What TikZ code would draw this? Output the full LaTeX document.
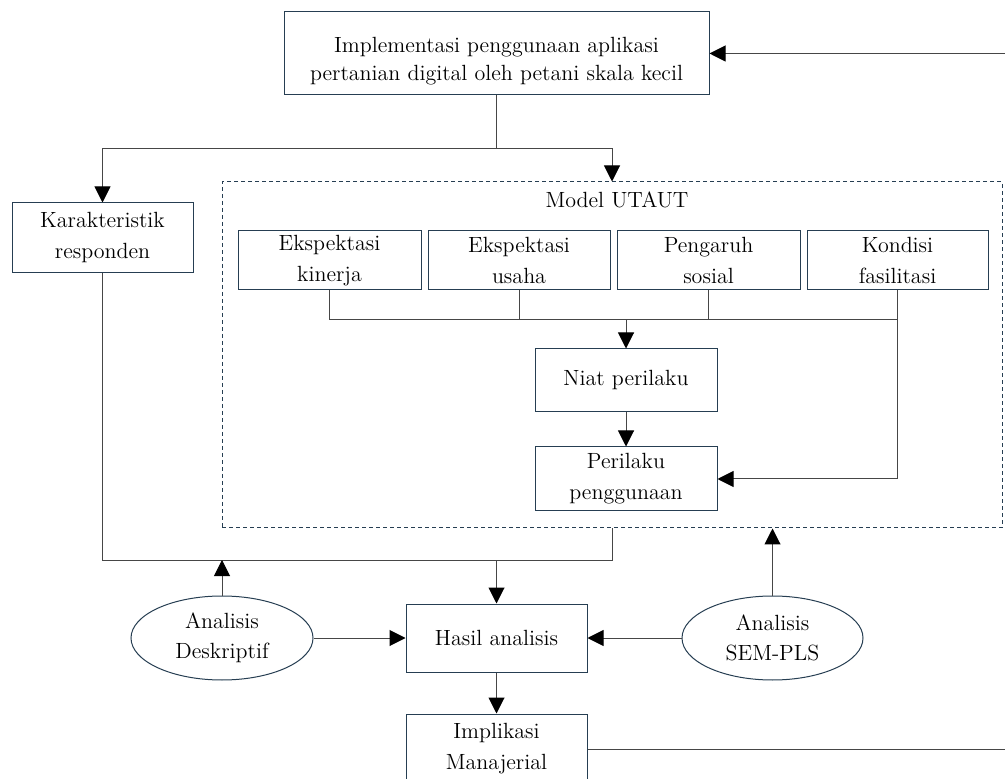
\documentclass[tikz,border=0pt]{standalone}
\usepackage{tikz}
\usetikzlibrary{arrows.meta,shapes.geometric}
\definecolor{boxline}{RGB}{38,62,82}
\definecolor{wire}{RGB}{70,70,70}
\tikzset{
  blok/.style={rectangle,draw=boxline,line width=0.5pt,align=center,inner sep=0pt,font=\fontsize{11}{15.5}\selectfont},
  elips/.style={ellipse,draw=boxline,line width=0.5pt,align=center,inner sep=0pt,font=\fontsize{11}{15}\selectfont},
  garis/.style={draw=wire,line width=0.5pt},
  arr/.style={garis,-{Triangle[length=8pt,width=8pt,color=black]}}
}
\begin{document}
\begin{tikzpicture}[x=0.5pt,y=-0.5pt]
\useasboundingbox (0,0) rectangle (1005,779);
\node[blok,font=\fontsize{11}{14}\selectfont,minimum width=212.5pt,minimum height=41.5pt](top) at(496.5,53.5){\rule{0pt}{15pt}Implementasi penggunaan aplikasi\\pertanian digital oleh petani skala kecil};
\node[blok,minimum width=90.5pt,minimum height=35pt](karak) at(102.5,238){Karakteristik\\responden};
\node[rectangle,draw=boxline,dash pattern=on 2pt off 1.5pt,line width=0.5pt,minimum width=390pt,minimum height=173pt](utaut) at(612,355){};
\node[font=\fontsize{11}{14}\selectfont](judul) at(617,200){Model UTAUT};
\node[blok,minimum width=91.5pt,minimum height=29.5pt](kinerja) at(329.5,260.5){Ekspektasi\\kinerja};
\node[blok,minimum width=91pt,minimum height=29.5pt](usaha) at(519,260.5){Ekspektasi\\usaha};
\node[blok,minimum width=91.5pt,minimum height=29.5pt](sosial) at(708.5,260.5){Pengaruh\\sosial};
\node[blok,minimum width=90.5pt,minimum height=29.5pt](fasil) at(897.5,260.5){Kondisi\\fasilitasi};
\node[blok,minimum width=91pt,minimum height=31.5pt](niat) at(626,380.5){Niat perilaku};
\node[blok,minimum width=91pt,minimum height=32pt](perilaku) at(626,479){Perilaku\\penggunaan};
\node[elips,minimum width=91pt,minimum height=42pt](desk) at(222,638){Analisis\\Deskriptif};
\node[blok,minimum width=90.5pt,minimum height=34pt](hasil) at(496.5,638){Hasil analisis};
\node[elips,minimum width=90.5pt,minimum height=42pt](sem) at(772.5,638){Analisis\\SEM-PLS};
\node[blok,minimum width=90.5pt,minimum height=35pt](impl) at(496.5,749){Implikasi\\Manajerial};

\coordinate(masuk) at(1005,53.5);
\coordinate(cabang) at(496.5,149);
\coordinate(bus) at(626,320);
\coordinate(gabung) at(496.5,560);
\coordinate(keluar) at(1005,749);

\draw[arr](masuk)--(top.east);
\draw[garis](top.south)--(cabang);
\draw[arr](cabang)-|(karak.north);
\draw[arr](cabang)-|(utaut.north);

\draw[garis](kinerja.south)|-(bus);
\draw[garis](usaha.south)|-(bus);
\draw[garis](sosial.south)|-(bus);
\draw[garis](fasil.south)|-(bus);
\draw[arr](bus)--(niat.north);
\draw[arr](niat.south)--(perilaku.north);
\draw[arr](fasil.south)|-(perilaku.east);

\draw[garis](karak.south)|-(gabung);
\draw[garis](utaut.south)|-(gabung);
\draw[arr](gabung)--(hasil.north);
\draw[arr](desk.north)--(desk.north|-gabung);
\draw[arr](desk.east)--(hasil.west);
\draw[arr](sem.west)--(hasil.east);
\draw[arr](sem.north)--(sem.north|-utaut.south);
\draw[arr](hasil.south)--(impl.north);
\draw[garis](impl.east)--(keluar);
\end{tikzpicture}
\end{document}
